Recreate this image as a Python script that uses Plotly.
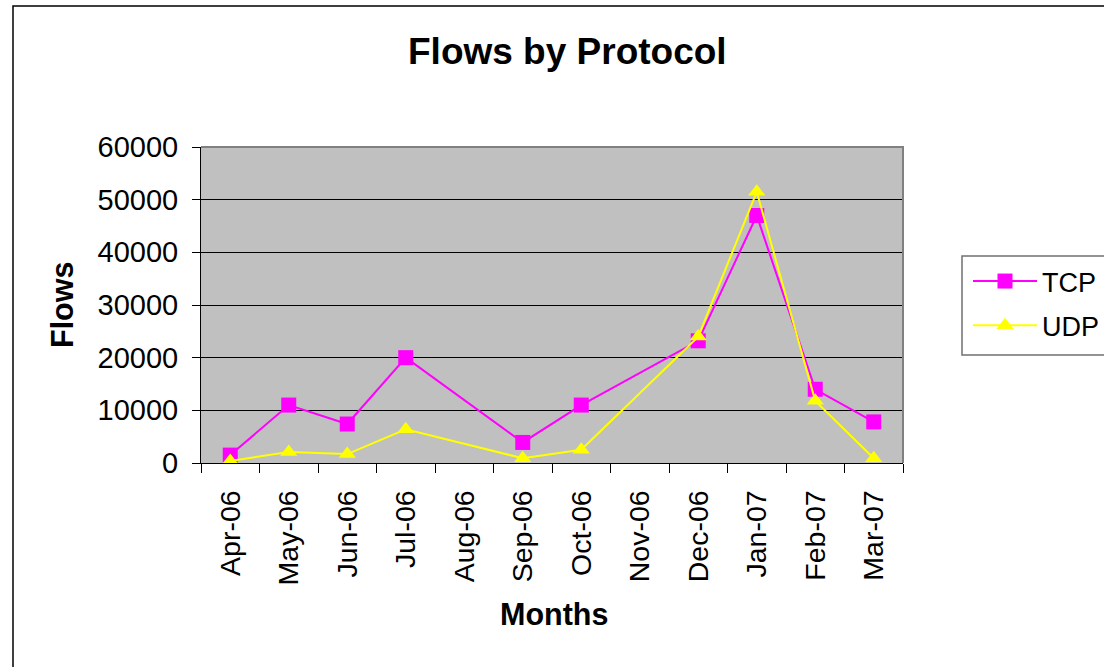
import plotly.graph_objects as go

months = ["Apr-06", "May-06", "Jun-06", "Jul-06", "Aug-06", "Sep-06",
          "Oct-06", "Nov-06", "Dec-06", "Jan-07", "Feb-07", "Mar-07"]
tcp = [1500, 11000, 7400, 20000, None, 3900, 11000, None, 23200, 47000, 14000, 7800]
udp = [400, 2100, 1700, 6400, None, 900, 2500, None, 24000, 51500, 11800, 900]
y_ticks = [0, 10000, 20000, 30000, 40000, 50000, 60000]

FONT = "Liberation Sans, Arial, sans-serif"

fig = go.Figure()
fig.add_trace(go.Scatter(
    x=months, y=tcp, name="TCP", mode="lines+markers", connectgaps=True,
    legendgroup="tcp",
    line=dict(color="#FF00FF", width=2),
    marker=dict(symbol="square", size=15, color="#FF00FF", line=dict(width=0)),
))
fig.add_trace(go.Scatter(
    x=months, y=udp, name="UDP", mode="lines+markers", connectgaps=True,
    legendgroup="udp",
    line=dict(color="#FFFF00", width=2),
    marker=dict(symbol="triangle-up", size=15, color="#FFFF00", line=dict(width=0)),
))

W, H = 1104, 667
# plot area in screen pixels
L, R, T, B = 201, 903, 147, 463

def px(x):
    return (x - L) / (R - L)

def py(y):
    return (B - y) / (B - T)

def cx(x):
    return x / W

def cy(y):
    return 1 - y / H

fig.update_layout(
    width=W, height=H, autosize=False,
    margin=dict(l=L, r=W - R, t=T, b=H - B, pad=0),
    paper_bgcolor="white", plot_bgcolor="#C0C0C0",
    font=dict(family=FONT, color="black", size=28),
    showlegend=True,
    legend=dict(xref="container", yref="container",
                x=cx(968), y=cy(257), xanchor="left", yanchor="top",
                bgcolor="rgba(0,0,0,0)", borderwidth=0,
                font=dict(size=27, family=FONT), itemwidth=64,
                traceorder="grouped", tracegroupgap=6),
    xaxis=dict(type="category", categoryorder="array", categoryarray=months,
               range=[-0.5, 11.5], tickson="boundaries", ticks="outside",
               ticklen=9, tickcolor="black", tickwidth=1, tickangle=-90,
               showgrid=False, showline=True, linecolor="black", linewidth=1,
               tickfont=dict(size=28.5, family=FONT), ticklabelstandoff=15,
               zeroline=False),
    yaxis=dict(range=[0, 60000], tickvals=y_ticks, ticktext=[str(v) for v in y_ticks],
               ticks="outside", ticklen=8, tickcolor="black", tickwidth=1,
               showgrid=True, gridcolor="black", gridwidth=1,
               showline=True, linecolor="black", linewidth=1,
               tickfont=dict(size=29, family=FONT), ticklabelstandoff=8,
               zeroline=False),
    annotations=[
        dict(text="<b>Flows by Protocol</b>", x=px(567.5), y=py(52), xref="paper", yref="paper",
             xanchor="center", yanchor="middle", showarrow=False,
             font=dict(size=37, family=FONT)),
        dict(text="<b>Flows</b>", x=px(62), y=py(305), xref="paper", yref="paper",
             xanchor="center", yanchor="middle", textangle=-90, showarrow=False,
             font=dict(size=30.5, family=FONT)),
        dict(text="<b>Months</b>", x=px(554), y=py(614), xref="paper", yref="paper",
             xanchor="center", yanchor="middle", showarrow=False,
             font=dict(size=30.5, family=FONT)),
    ],
    shapes=[
        # outer chart frame (left and top edges visible)
        dict(type="path", xref="paper", yref="paper",
             path=f"M {px(13)},{py(720)} L {px(13)},{py(6)} L {px(1200)},{py(6)}",
             line=dict(color="black", width=1.5), layer="above"),
        # plot area top/right border
        dict(type="path", xref="paper", yref="paper",
             path="M 0,1 L 1,1 L 1,0",
             line=dict(color="#808080", width=2), layer="above"),
        # legend box
        dict(type="rect", xref="paper", yref="paper",
             x0=px(962), x1=px(1200), y0=py(355), y1=py(256),
             line=dict(color="#707070", width=1.5), layer="above"),
    ],
)

fig.write_html(
    "out.html",
    config={"displayModeBar": False},
    post_script="document.body.style.margin='0';document.body.style.overflow='hidden';",
)
